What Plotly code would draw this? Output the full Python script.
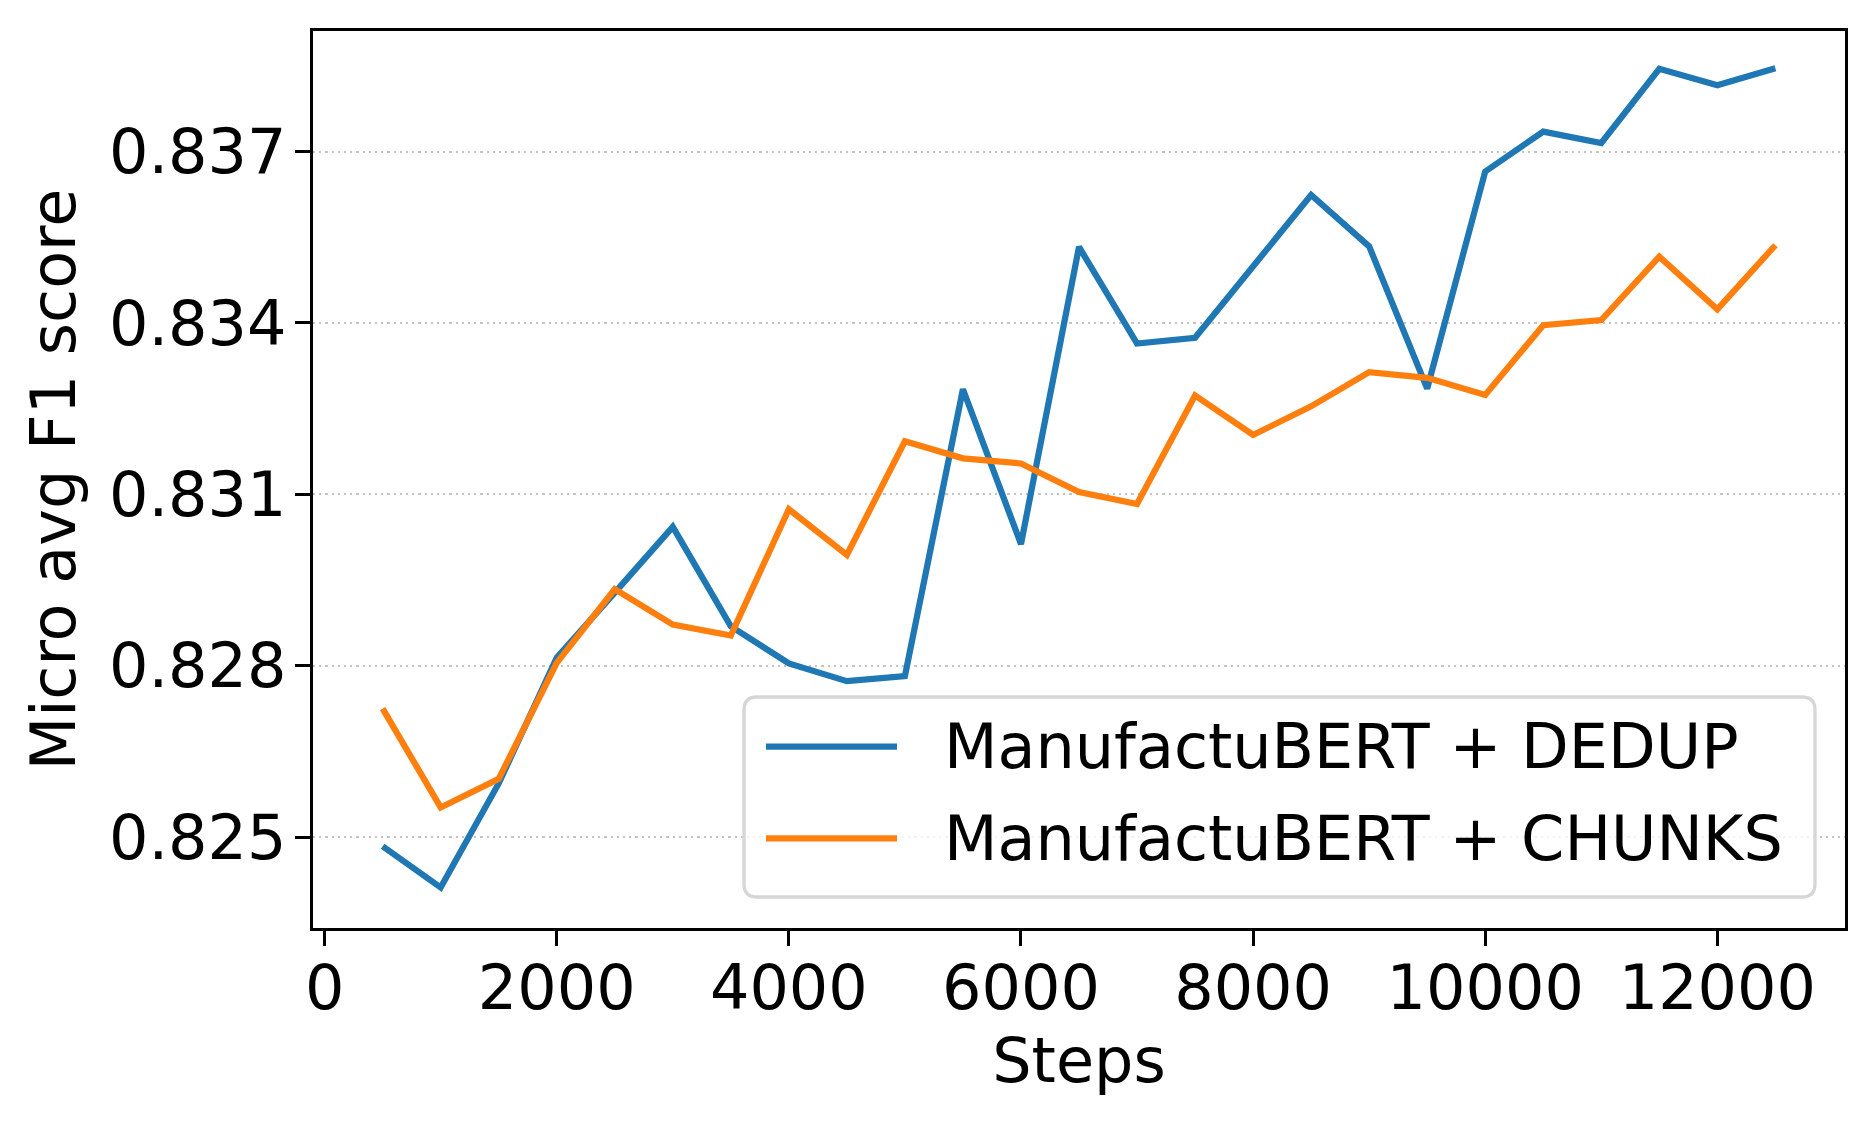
import plotly.graph_objects as go

steps = [500, 1000, 1500, 2000, 2500, 3000, 3500, 4000, 4500, 5000, 5500, 6000, 6500,
         7000, 7500, 8000, 8500, 9000, 9500, 10000, 10500, 11000, 11500, 12000, 12500]
dedup = [0.82484, 0.82412, 0.82594, 0.82814, 0.82928, 0.83043, 0.82869, 0.82804, 0.82773,
         0.82782, 0.83284, 0.83013, 0.83533, 0.83364, 0.83374, 0.83500, 0.83624, 0.83534,
         0.83285, 0.83665, 0.83735, 0.83715, 0.83845, 0.83816, 0.83846]
chunks = [0.82725, 0.82552, 0.82602, 0.82805, 0.82934, 0.82872, 0.82853, 0.83074, 0.82994,
          0.83193, 0.83163, 0.83154, 0.83104, 0.83083, 0.83273, 0.83204, 0.83254, 0.83314,
          0.83304, 0.83274, 0.83396, 0.83405, 0.83516, 0.83424, 0.83536]
series_names = ["ManufactuBERT + DEDUP", "ManufactuBERT + CHUNKS"]
series_colors = ["#1f77b4", "#ff7f0e"]
y_ticks = [0.825, 0.828, 0.831, 0.834, 0.837]
x_ticks = [0, 2000, 4000, 6000, 8000, 10000, 12000]
x_tick_labels = ["0", "2000", "4000", "6000", "8000", "10000", "12000"]

W, H = 1875, 1125
ML, MR, MT, MB = 313, 30, 31, 197
PW, PH = W - ML - MR, H - MT - MB
FONT = "DejaVu Sans"
FS = 62


def px_x(p):
    return (p - ML) / PW


def px_y(p):
    return (H - MB - p) / PH


fig = go.Figure()
for name, vals, col in zip(series_names, [dedup, chunks], series_colors):
    fig.add_trace(go.Scatter(x=steps, y=vals, mode="lines", name=name,
                             line=dict(color=col, width=6.25), showlegend=False))

# legend box (rounded)
x0, x1 = px_x(744), px_x(1815)
y0, y1 = px_y(897), px_y(697)
rx, ry = 13 / PW, 13 / PH
path = (f"M{x0+rx},{y0} L{x1-rx},{y0} Q{x1},{y0} {x1},{y0+ry} L{x1},{y1-ry} "
        f"Q{x1},{y1} {x1-rx},{y1} L{x0+rx},{y1} Q{x0},{y1} {x0},{y1-ry} "
        f"L{x0},{y0+ry} Q{x0},{y0} {x0+rx},{y0} Z")
shapes = [dict(type="path", path=path, xref="paper", yref="paper",
               fillcolor="rgba(255,255,255,0.8)", line=dict(color="#d6d6d6", width=3.3),
               layer="above")]
annotations = []
for i, (name, col) in enumerate(zip(series_names, series_colors)):
    yc = px_y(746.7 + i * 91.7)
    shapes.append(dict(type="line", xref="paper", yref="paper", x0=px_x(766), x1=px_x(897),
                       y0=yc, y1=yc, line=dict(color=col, width=6.25), layer="above"))
    annotations.append(dict(text=name, xref="paper", yref="paper", x=px_x(942), y=yc,
                            xanchor="left", yanchor="middle", showarrow=False,
                            font=dict(family=FONT, size=FS, color="black")))

fig.update_layout(
    width=W, height=H,
    margin=dict(l=ML, r=MR, t=MT, b=MB, pad=0),
    paper_bgcolor="white", plot_bgcolor="white",
    font=dict(family=FONT, size=FS, color="black"),
    shapes=shapes, annotations=annotations,
    showlegend=False,
)
fig.update_xaxes(
    range=[-100, 13100], tickvals=x_ticks, ticktext=x_tick_labels, ticks="outside",
    ticklen=15, tickwidth=3.3,
    tickcolor="black", showline=True, linecolor="black", linewidth=3.3, mirror=True,
    showgrid=False, zeroline=False, tickfont=dict(family=FONT, size=FS, color="black"),
    title=dict(text="Steps", font=dict(family=FONT, size=FS, color="black"), standoff=8),
    ticklabelstandoff=-12,
)
fig.update_yaxes(
    range=[0.82341, 0.83911], tickvals=y_ticks, tickformat=".3f", ticks="outside",
    ticklen=15, tickwidth=3.3, tickcolor="black", showline=True, linecolor="black",
    linewidth=3.3, mirror=True, showgrid=True, gridcolor="#c4c4c4", gridwidth=2.2,
    griddash="2.2px,4px", zeroline=False,
    tickfont=dict(family=FONT, size=FS, color="black"),
    title=dict(text="Micro avg F1 score", font=dict(family=FONT, size=FS, color="black"),
               standoff=14),
    ticklabelstandoff=-4,
)

fig.write_html("out.html", config={"displayModeBar": False},
               post_script="document.body.style.margin='0';")
